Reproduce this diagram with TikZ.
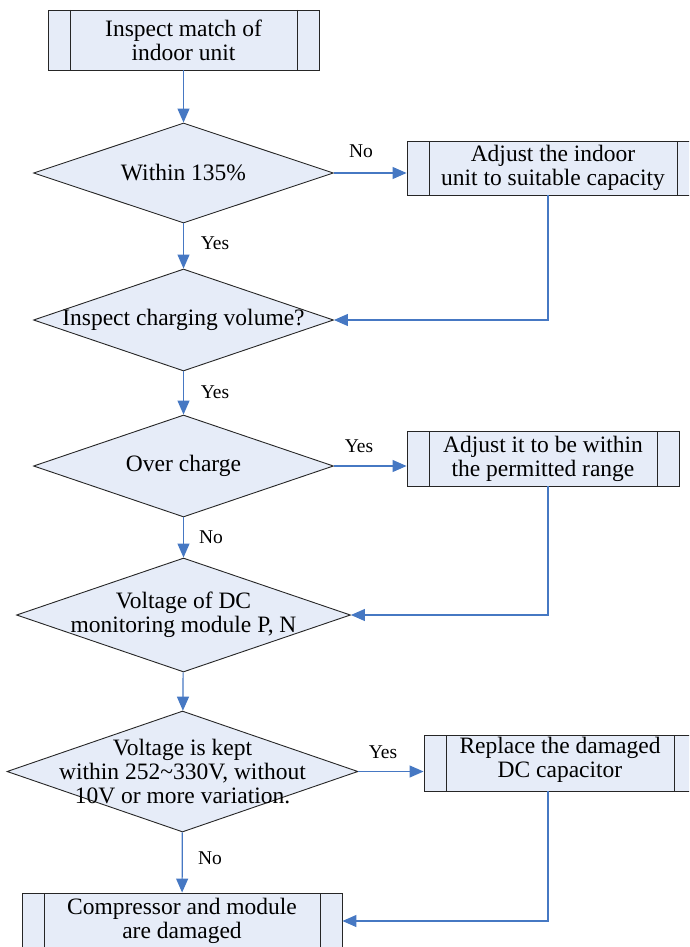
\documentclass[tikz,border=0pt]{standalone}
\usepackage{fontspec}
\setmainfont{Liberation Serif}
\usetikzlibrary{positioning, arrows.meta, shapes.geometric}

\definecolor{boxfill}{RGB}{230,236,248}
\definecolor{flowblue}{RGB}{70,120,195}

\begin{document}
\begin{tikzpicture}[
    x=1pt, y=-1pt,
    font=\fontsize{23.5}{24}\selectfont,
    >={Triangle[length=14pt, width=12pt]},
    procbox/.style={draw=black!85, fill=boxfill, align=center, inner sep=0pt, line width=0.9pt,
        path picture={
            \draw[black!85, line width=0.9pt]
                ([xshift=22pt]path picture bounding box.north west) -- ([xshift=22pt]path picture bounding box.south west)
                ([xshift=-22pt]path picture bounding box.north east) -- ([xshift=-22pt]path picture bounding box.south east);
        }},
    decision/.style={diamond, draw=black!85, fill=boxfill, inner sep=0pt, line width=0.9pt},
    flow/.style={->, flowblue, line width=1.2pt},
    answer/.style={font=\fontsize{19.5}{21}\selectfont},
]

% ---- Page frame (picture is cut at right and bottom) ----
\useasboundingbox (0,0) rectangle (689,947);
\clip (0,0) rectangle (689,947);

% x of the return lines on the right
\coordinate (rx) at (548,0);

% ---- Left column ----
\node[procbox, minimum width=271pt, minimum height=60pt] (match) at (183.5,40)
    {Inspect match of\\indoor unit};

\node[decision, minimum width=300pt, minimum height=100pt,
      label={[align=center]center:Within 135\%}] (within) at (183.5,173) {};

\node[decision, minimum width=300pt, minimum height=102pt,
      label={[align=center]center:Inspect charging volume?}] (charge) at (183.5,320) {};

\node[decision, minimum width=300pt, minimum height=102pt,
      label={[align=center]center:Over charge}] (over) at (183.5,466) {};

\node[decision, minimum width=334pt, minimum height=114pt,
      label={[align=center]center:Voltage of DC\\monitoring module P, N}] (dcmon) at (183.5,615) {};

\node[decision, minimum width=351pt, minimum height=121pt,
      label={[align=center]center:Voltage is kept\\within 252\textasciitilde330V, without\\10V or more variation.}] (kept) at (182.5,771.5) {};

\node[procbox, minimum width=320pt, minimum height=56pt] (damaged) at (182,921)
    {Compressor and module\\are damaged};

% ---- Right column ----
\node[procbox, minimum width=292pt, minimum height=54pt] (adjcap) at (553,168)
    {Adjust the indoor\\unit to suitable capacity};

\node[procbox, minimum width=272pt, minimum height=55pt] (adjrange) at (543,458.5)
    {Adjust it to be within\\the permitted range};

\node[procbox, minimum width=272pt, minimum height=56pt] (replace) at (560,763)
    {Replace the damaged\\DC capacitor\\[-12pt]\mbox{}};

% ---- Connectors ----
\draw[flow] (match) -- (within);
\draw[flow] (within) -- (charge);
\draw[flow] (charge) -- (over);
\draw[flow] (over) -- (dcmon);
\draw[flow] (dcmon) -- (kept);
\draw[flow] (kept) -- (damaged);

\draw[flow] (within.east) -- (within.east -| adjcap.west);
\draw[flow] (over.east) -- (over.east -| adjrange.west);
\draw[flow] (kept.east) -- (kept.east -| replace.west);

\draw[flow] (adjcap.south -| rx) |- (charge.east);
\draw[flow] (adjrange.south -| rx) |- (dcmon.east);
\draw[flow] (replace.south -| rx) |- (damaged.east);

% ---- Yes / No ----
\node[answer] (no1)  at (361,151) {No};
\node[answer] (yes1) at (215,243) {Yes};
\node[answer] (yes2) at (215,392) {Yes};
\node[answer] (yes3) at (359,446) {Yes};
\node[answer] (no2)  at (211,537) {No};
\node[answer] (yes4) at (383,752) {Yes};
\node[answer] (no3)  at (210,858) {No};

\end{tikzpicture}
\end{document}
